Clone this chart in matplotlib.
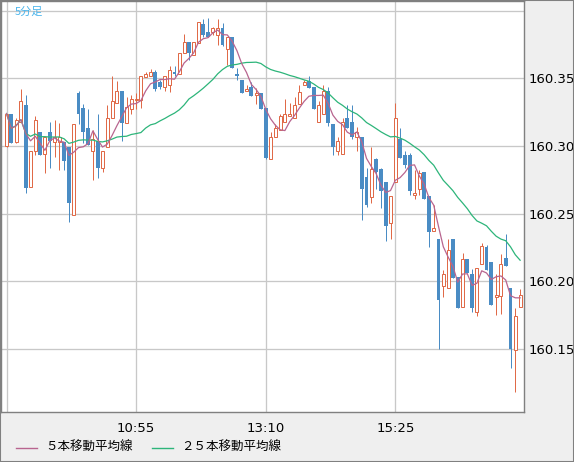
import matplotlib
matplotlib.use("Agg")
import matplotlib.pyplot as plt
from matplotlib.lines import Line2D
from matplotlib.patches import Rectangle
import numpy as np
import pandas as pd

# 5-minute candles, 8:40 .. 17:35
opens = [
    160.300, 160.324, 160.303, 160.318, 160.330, 160.270, 160.296, 160.310, 160.294, 160.310,
    160.303, 160.303, 160.303, 160.299, 160.249, 160.339, 160.328, 160.313, 160.296, 160.304,
    160.284, 160.299, 160.321, 160.332, 160.341, 160.317, 160.327, 160.334, 160.334, 160.351,
    160.352, 160.355, 160.347, 160.344, 160.345, 160.355, 160.353, 160.369, 160.377, 160.367,
    160.376, 160.390, 160.384, 160.384, 160.382, 160.387, 160.372, 160.381, 160.353, 160.349,
    160.341, 160.344, 160.338, 160.339, 160.328, 160.290, 160.307, 160.312, 160.318, 160.322,
    160.321, 160.331, 160.345, 160.348, 160.344, 160.318, 160.324, 160.341, 160.316, 160.296,
    160.294, 160.321, 160.318, 160.307, 160.307, 160.277, 160.262, 160.290, 160.283, 160.273,
    160.243, 160.273, 160.305, 160.293, 160.293, 160.264, 160.268, 160.281, 160.263, 160.237,
    160.231, 160.196, 160.195, 160.231, 160.203, 160.181, 160.216, 160.205, 160.177, 160.213,
    160.225, 160.214, 160.188, 160.189, 160.217, 160.195, 160.149, 160.181]
highs = [
    160.324, 160.324, 160.321, 160.342, 160.338, 160.296, 160.322, 160.310, 160.307, 160.318,
    160.319, 160.317, 160.303, 160.299, 160.316, 160.341, 160.331, 160.327, 160.312, 160.324,
    160.296, 160.330, 160.352, 160.348, 160.341, 160.336, 160.338, 160.339, 160.352, 160.355,
    160.357, 160.356, 160.349, 160.352, 160.359, 160.359, 160.369, 160.383, 160.377, 160.377,
    160.392, 160.394, 160.395, 160.388, 160.394, 160.391, 160.381, 160.381, 160.358, 160.349,
    160.345, 160.347, 160.343, 160.339, 160.328, 160.310, 160.316, 160.324, 160.335, 160.332,
    160.336, 160.345, 160.349, 160.352, 160.344, 160.333, 160.345, 160.344, 160.316, 160.307,
    160.321, 160.330, 160.330, 160.314, 160.307, 160.284, 160.299, 160.291, 160.284, 160.273,
    160.263, 160.332, 160.313, 160.296, 160.295, 160.282, 160.282, 160.281, 160.263, 160.256,
    160.231, 160.208, 160.231, 160.231, 160.203, 160.221, 160.216, 160.209, 160.210, 160.228,
    160.227, 160.214, 160.205, 160.220, 160.235, 160.195, 160.180, 160.194]
lows = [
    160.299, 160.302, 160.302, 160.318, 160.265, 160.270, 160.293, 160.293, 160.280, 160.284,
    160.292, 160.282, 160.282, 160.244, 160.249, 160.316, 160.302, 160.301, 160.275, 160.276,
    160.281, 160.299, 160.321, 160.332, 160.304, 160.317, 160.324, 160.327, 160.328, 160.351,
    160.352, 160.341, 160.342, 160.341, 160.340, 160.352, 160.353, 160.369, 160.364, 160.367,
    160.376, 160.381, 160.381, 160.382, 160.375, 160.374, 160.360, 160.358, 160.349, 160.339,
    160.341, 160.337, 160.331, 160.327, 160.290, 160.290, 160.307, 160.312, 160.318, 160.322,
    160.321, 160.331, 160.345, 160.343, 160.327, 160.318, 160.324, 160.315, 160.293, 160.293,
    160.294, 160.313, 160.305, 160.296, 160.245, 160.255, 160.258, 160.268, 160.254, 160.230,
    160.231, 160.273, 160.291, 160.284, 160.264, 160.261, 160.264, 160.261, 160.225, 160.237,
    160.150, 160.188, 160.195, 160.202, 160.180, 160.181, 160.206, 160.177, 160.174, 160.213,
    160.208, 160.182, 160.175, 160.176, 160.211, 160.136, 160.118, 160.181]
closes = [
    160.324, 160.302, 160.319, 160.333, 160.269, 160.296, 160.319, 160.293, 160.307, 160.304,
    160.307, 160.307, 160.289, 160.258, 160.316, 160.324, 160.310, 160.301, 160.305, 160.284,
    160.296, 160.321, 160.333, 160.341, 160.317, 160.329, 160.335, 160.335, 160.352, 160.353,
    160.355, 160.342, 160.344, 160.352, 160.356, 160.353, 160.369, 160.377, 160.369, 160.377,
    160.392, 160.382, 160.381, 160.387, 160.387, 160.375, 160.381, 160.358, 160.352, 160.339,
    160.342, 160.337, 160.339, 160.327, 160.291, 160.307, 160.313, 160.322, 160.324, 160.324,
    160.330, 160.340, 160.347, 160.343, 160.327, 160.330, 160.341, 160.317, 160.299, 160.304,
    160.318, 160.313, 160.307, 160.310, 160.268, 160.256, 160.283, 160.281, 160.267, 160.241,
    160.263, 160.321, 160.291, 160.286, 160.267, 160.265, 160.280, 160.261, 160.236, 160.239,
    160.186, 160.205, 160.223, 160.202, 160.180, 160.216, 160.206, 160.180, 160.210, 160.226,
    160.208, 160.182, 160.190, 160.213, 160.211, 160.150, 160.174, 160.190]

x_ticks = [0, 27, 54, 81]
x_labels = ['', '10:55', '13:10', '15:25']
y_ticks = [160.15, 160.20, 160.25, 160.30, 160.35, 160.40]
y_labels = ['160.15', '160.20', '160.25', '160.30', '160.35', '']

up_col = '#e06a48'
down_col = '#4a8cc4'
ma5_col = '#b8658f'
ma25_col = '#2db57a'
grid_col = '#c8c8c8'
frame_col = '#808080'
panel_col = '#efefef'
cjk = ['Noto Sans CJK JP', 'DejaVu Sans']

W, H = 574, 462
fig = plt.figure(figsize=(W / 100, H / 100), dpi=100, facecolor=panel_col)
ax = fig.add_axes([1 / W, (H - 412) / H, 523 / W, 411 / H])
ax.set_facecolor('white')

o = np.array(opens)
h = np.array(highs)
l = np.array(lows)
c = np.array(closes)
idx = np.arange(len(c))
up = c >= o

ma5 = pd.Series(c).rolling(5, min_periods=1).mean()
ma25 = pd.Series(c).rolling(25, min_periods=1).mean()

px = 0.72  # one pixel in points
ax.vlines(idx[up], l[up], h[up], color=up_col, lw=px, zorder=2)
ax.vlines(idx[~up], l[~up], h[~up], color=down_col, lw=px, zorder=2)
ax.bar(idx[up], c[up] - o[up], bottom=o[up], width=0.62, facecolor='white',
       edgecolor=up_col, linewidth=px, zorder=3)
ax.bar(idx[~up], c[~up] - o[~up], bottom=o[~up], width=0.8, color=down_col,
       linewidth=0, zorder=3)

ax.plot(idx, ma25, color=ma25_col, lw=0.9, zorder=4)
ax.plot(idx, ma5, color=ma5_col, lw=0.9, zorder=5)

ax.set_xlim(-1.146, 107.81)
ax.set_ylim(160.1031, 160.4073)
ax.set_xticks(x_ticks)
ax.set_xticklabels(x_labels)
ax.set_yticks(y_ticks)
ax.set_yticklabels(y_labels)
ax.yaxis.tick_right()
ax.tick_params(length=0, labelsize=9.5, colors='black')
ax.tick_params(axis='y', pad=3)
ax.tick_params(axis='x', pad=7)
ax.grid(True, color=grid_col, lw=px * 1.3, zorder=0)
ax.set_axisbelow(True)
for s in ax.spines.values():
    s.set_color(frame_col)
    s.set_linewidth(px * 1.4)

ax.text(0.026, 0.985, '5分足', transform=ax.transAxes, ha='left', va='top',
        color='#48b4ec', fontsize=8, family=cjk)

# legend along the bottom
fig.add_artist(Line2D([16 / W, 37 / W], [1 - 447.5 / H] * 2, color=ma5_col, lw=1.0))
fig.text(45 / W, 1 - 447.5 / H, '５本移動平均線', color='black', fontsize=9,
         family=cjk, va='center', ha='left')
fig.add_artist(Line2D([152 / W, 173 / W], [1 - 447.5 / H] * 2, color=ma25_col, lw=1.0))
fig.text(181 / W, 1 - 447.5 / H, '２５本移動平均線', color='black', fontsize=9,
         family=cjk, va='center', ha='left')

fig.add_artist(Rectangle((0, 0), 1, 1, transform=fig.transFigure, fill=False,
                         edgecolor=frame_col, lw=1.5))

fig.savefig('out.png', dpi=100, facecolor=panel_col)
